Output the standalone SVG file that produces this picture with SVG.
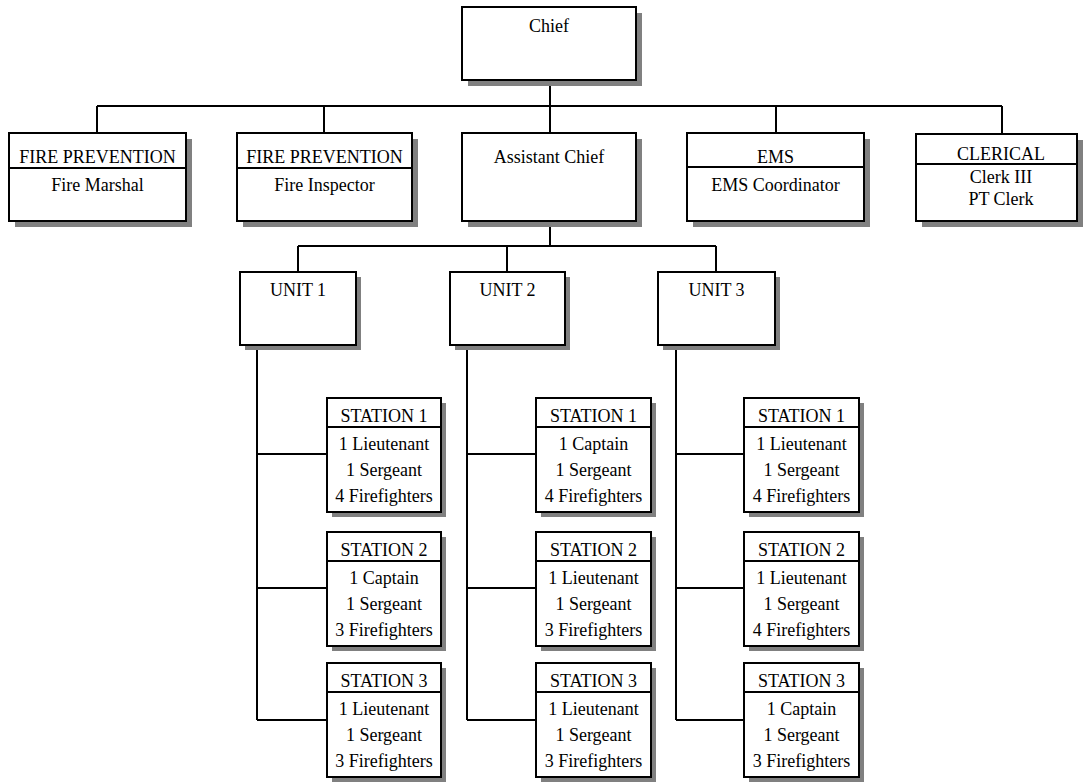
<svg xmlns="http://www.w3.org/2000/svg" width="1083" height="783" viewBox="0 0 1083 783">
<style>
.sh{fill:#808080;stroke:none}
.bx{fill:#fff;stroke:#000;stroke-width:2}
.dv{stroke:#000;stroke-width:2}
.cn{stroke:#000;stroke-width:2;fill:none}
text{font-family:"Liberation Serif","Times New Roman",serif;font-size:18px;fill:#000;text-anchor:middle}
</style>
<rect width="1083" height="783" fill="#fff"/>
<g id="connectors">
<path class="cn" d="M550 80V106M97 106H1002M97 106V133M324 106V133M550 106V133M776 106V133M1002 106V134"/>
<path class="cn" d="M550 221V246M298 246H716M298 246V272M507 246V272M716 246V272"/>
<path class="cn" d="M257 345V720M257 454H327M257 588H327M257 720H327"/>
<path class="cn" d="M467 345V720M467 454H536M467 588H536M467 720H536"/>
<path class="cn" d="M676 345V720M676 454H744M676 588H744M676 720H744"/>
</g>
<g id="chief"><rect class="sh" x="468" y="13" width="174" height="73"/><rect class="bx" x="462" y="7" width="174" height="73"/><text x="549" y="32">Chief</text></g>
<g id="fire-marshal"><rect class="sh" x="15" y="139" width="177" height="88"/><rect class="bx" x="9" y="133" width="177" height="88"/><line class="dv" x1="9" y1="168" x2="186" y2="168"/><text x="97.5" y="163">FIRE PREVENTION</text><text x="97.5" y="191">Fire Marshal</text></g>
<g id="fire-inspector"><rect class="sh" x="243" y="139" width="175" height="88"/><rect class="bx" x="237" y="133" width="175" height="88"/><line class="dv" x1="237" y1="168" x2="412" y2="168"/><text x="324.5" y="163">FIRE PREVENTION</text><text x="324.5" y="191">Fire Inspector</text></g>
<g id="assistant-chief"><rect class="sh" x="468" y="139" width="174" height="88"/><rect class="bx" x="462" y="133" width="174" height="88"/><text x="549" y="163">Assistant Chief</text></g>
<g id="ems"><rect class="sh" x="693" y="139" width="177" height="88"/><rect class="bx" x="687" y="133" width="177" height="88"/><line class="dv" x1="687" y1="167" x2="864" y2="167"/><text x="775.5" y="163">EMS</text><text x="775.5" y="191">EMS Coordinator</text></g>
<g id="clerical"><rect class="sh" x="922" y="140" width="161" height="87"/><rect class="bx" x="916" y="134" width="161" height="87"/><line class="dv" x1="916" y1="164" x2="1077" y2="164"/><text x="1001" y="160">CLERICAL</text><text x="1001" y="183">Clerk III</text><text x="1001" y="205">PT Clerk</text></g>
<g id="unit1"><rect class="sh" x="245" y="277" width="116" height="73"/><rect class="bx" x="240" y="272" width="116" height="73"/><text x="298" y="296">UNIT 1</text></g>
<g id="unit2"><rect class="sh" x="455" y="277" width="115" height="73"/><rect class="bx" x="450" y="272" width="115" height="73"/><text x="507.5" y="296">UNIT 2</text></g>
<g id="unit3"><rect class="sh" x="663" y="277" width="117" height="73"/><rect class="bx" x="658" y="272" width="117" height="73"/><text x="716.5" y="296">UNIT 3</text></g>
<g id="u1s1"><rect class="sh" x="332" y="403" width="114" height="114"/><rect class="bx" x="327" y="398" width="114" height="114"/><line class="dv" x1="327" y1="427" x2="441" y2="427"/><text x="384" y="422">STATION 1</text><text x="384" y="450">1 Lieutenant</text><text x="384" y="476">1 Sergeant</text><text x="384" y="502">4 Firefighters</text></g>
<g id="u1s2"><rect class="sh" x="332" y="537" width="114" height="114"/><rect class="bx" x="327" y="532" width="114" height="114"/><line class="dv" x1="327" y1="561" x2="441" y2="561"/><text x="384" y="556">STATION 2</text><text x="384" y="584">1 Captain</text><text x="384" y="610">1 Sergeant</text><text x="384" y="636">3 Firefighters</text></g>
<g id="u1s3"><rect class="sh" x="332" y="668" width="114" height="114"/><rect class="bx" x="327" y="663" width="114" height="114"/><line class="dv" x1="327" y1="692" x2="441" y2="692"/><text x="384" y="687">STATION 3</text><text x="384" y="715">1 Lieutenant</text><text x="384" y="741">1 Sergeant</text><text x="384" y="767">3 Firefighters</text></g>
<g id="u2s1"><rect class="sh" x="541" y="403" width="115" height="114"/><rect class="bx" x="536" y="398" width="115" height="114"/><line class="dv" x1="536" y1="427" x2="651" y2="427"/><text x="593.5" y="422">STATION 1</text><text x="593.5" y="450">1 Captain</text><text x="593.5" y="476">1 Sergeant</text><text x="593.5" y="502">4 Firefighters</text></g>
<g id="u2s2"><rect class="sh" x="541" y="537" width="115" height="114"/><rect class="bx" x="536" y="532" width="115" height="114"/><line class="dv" x1="536" y1="561" x2="651" y2="561"/><text x="593.5" y="556">STATION 2</text><text x="593.5" y="584">1 Lieutenant</text><text x="593.5" y="610">1 Sergeant</text><text x="593.5" y="636">3 Firefighters</text></g>
<g id="u2s3"><rect class="sh" x="541" y="668" width="115" height="114"/><rect class="bx" x="536" y="663" width="115" height="114"/><line class="dv" x1="536" y1="692" x2="651" y2="692"/><text x="593.5" y="687">STATION 3</text><text x="593.5" y="715">1 Lieutenant</text><text x="593.5" y="741">1 Sergeant</text><text x="593.5" y="767">3 Firefighters</text></g>
<g id="u3s1"><rect class="sh" x="749" y="403" width="115" height="114"/><rect class="bx" x="744" y="398" width="115" height="114"/><line class="dv" x1="744" y1="427" x2="859" y2="427"/><text x="801.5" y="422">STATION 1</text><text x="801.5" y="450">1 Lieutenant</text><text x="801.5" y="476">1 Sergeant</text><text x="801.5" y="502">4 Firefighters</text></g>
<g id="u3s2"><rect class="sh" x="749" y="537" width="115" height="114"/><rect class="bx" x="744" y="532" width="115" height="114"/><line class="dv" x1="744" y1="561" x2="859" y2="561"/><text x="801.5" y="556">STATION 2</text><text x="801.5" y="584">1 Lieutenant</text><text x="801.5" y="610">1 Sergeant</text><text x="801.5" y="636">4 Firefighters</text></g>
<g id="u3s3"><rect class="sh" x="749" y="668" width="115" height="114"/><rect class="bx" x="744" y="663" width="115" height="114"/><line class="dv" x1="744" y1="692" x2="859" y2="692"/><text x="801.5" y="687">STATION 3</text><text x="801.5" y="715">1 Captain</text><text x="801.5" y="741">1 Sergeant</text><text x="801.5" y="767">3 Firefighters</text></g>
</svg>
